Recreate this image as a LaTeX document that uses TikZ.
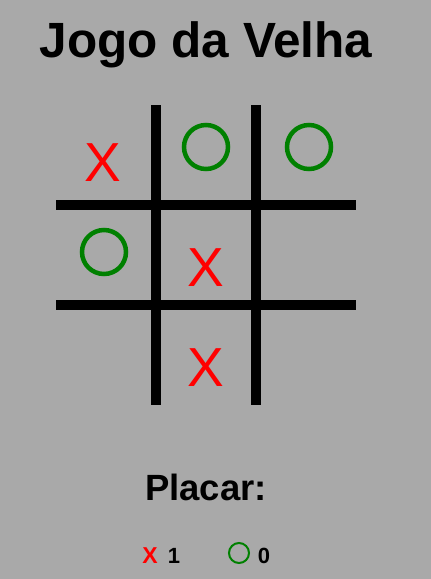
\documentclass[tikz,border=0pt]{standalone}
\usepackage{fontspec}
\setmainfont{Liberation Sans}
\usetikzlibrary{positioning}
\definecolor{fundo}{HTML}{A9A9A9}
\definecolor{verde}{HTML}{008000}
\definecolor{vermelho}{HTML}{FF0000}
\tikzset{
  linha/.style = {line width = 10pt},
  marcaX/.style = {text = vermelho, font = \fontsize{55}{55}\selectfont, inner sep = 0, anchor = base},
  marcaO/.style = {draw = verde, line width = 4.5pt},
  texto/.style = {inner sep = 0, anchor = base}
}
\begin{document}
\begin{tikzpicture}[x = 1pt, y = -1pt]
	\fill[fundo] (0, 0) rectangle (431, 579);
	\node[texto, font = \fontsize{49.5}{49.5}\selectfont\bfseries] (titulo) at (206, 57) {Jogo da Velha};
	% grade
	\draw[linha] (156, 105) -- (156, 405);
	\draw[linha] (256, 105) -- (256, 405);
	\draw[linha] (56, 205) -- (356, 205);
	\draw[linha] (56, 305) -- (356, 305);
	% jogadas
	\node[marcaX] (xa) at (103, 181) {X};
	\node[marcaX] (xb) at (206, 286) {X};
	\node[marcaX] (xc) at (206, 386) {X};
	\draw[marcaO] (206, 147) circle (22);
	\draw[marcaO] (309, 147) circle (22);
	\draw[marcaO] (104, 252) circle (22);
	% placar
	\node[texto, font = \fontsize{36.5}{36.5}\selectfont\bfseries] (placar) at (206, 500) {Placar:};
	\node[texto, font = \fontsize{23}{23}\selectfont\bfseries, text = vermelho] (px) at (150, 563) {X};
	\node[texto, font = \fontsize{22}{22}\selectfont\bfseries] (nx) at (174, 563) {1};
	\draw[draw = verde, line width = 2pt] (239, 553) circle (10);
	\node[texto, font = \fontsize{22}{22}\selectfont\bfseries] (no) at (264, 563) {0};
\end{tikzpicture}
\end{document}
